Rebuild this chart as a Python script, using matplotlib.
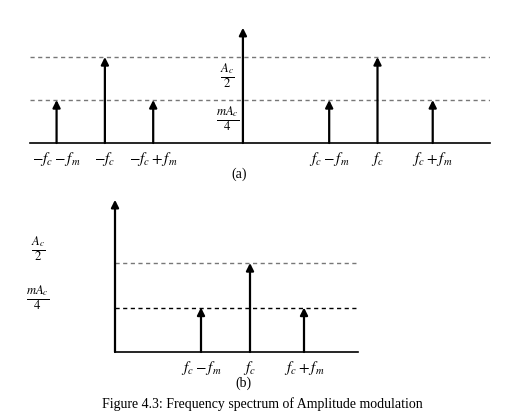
import matplotlib
matplotlib.use("Agg")
import matplotlib.pyplot as plt

plt.rcParams['mathtext.fontset'] = 'stix'
plt.rcParams['font.family'] = ['Liberation Serif', 'DejaVu Serif']

# Panel (a) data
a_freqs = [-5.4, -4.0, -2.6, 2.5, 3.9, 5.5]
a_amps = [0.5, 1.0, 0.5, 0.5, 1.0, 0.5]
a_labels = [r'$-f_c-f_m$', r'$-f_c$', r'$-f_c+f_m$', r'$f_c-f_m$', r'$f_c$', r'$f_c+f_m$']
# Panel (b) data
b_freqs = [1.72, 2.7, 3.78]
b_amps = [0.5, 1.0, 0.5]
b_labels = [r'$f_c-f_m$', r'$f_c$', r'$f_c+f_m$']
level_labels = [r'$\frac{A_c}{2}$', r'$\frac{mA_c}{4}$']
caption = 'Figure 4.3: Frequency spectrum of Amplitude modulation'

W, H = 521, 419
fig = plt.figure(figsize=(W/100, H/100), dpi=100)

def arrow(ax, x0, y0, x1, y1, lw=1.6):
    ax.annotate('', xy=(x1, y1), xytext=(x0, y0),
                arrowprops=dict(arrowstyle='-|>', color='black', lw=lw,
                                mutation_scale=11, shrinkA=0, shrinkB=0))

# ---- panel (a)
axa = fig.add_axes([30/W, 1-143/H, 460/W, 1.4*86/H])
axa.set_xlim(-6.17, 7.16); axa.set_ylim(0, 1.4); axa.axis('off')
axa.axhline(0, color='black', lw=1.2, clip_on=False)
for lv in (1.0, 0.5):
    axa.axhline(lv, color='#777777', lw=1.0, ls=(0, (3, 2.5)))
arrow(axa, 0, 0, 0, 1.34)
for f, a, l in zip(a_freqs, a_amps, a_labels):
    arrow(axa, f, 0, f, a)
    axa.text(f, -0.08, l, ha='center', va='top', fontsize=11)
axa.text(-0.45, 0.78, level_labels[0], ha='center', va='center', fontsize=13)
axa.text(-0.45, 0.28, level_labels[1], ha='center', va='center', fontsize=13)
axa.text(-0.1, -0.28, '(a)', ha='center', va='top', fontsize=10)

# ---- panel (b)
axb = fig.add_axes([115/W, 1-352/H, 243/W, 1.8*89/H])
axb.set_xlim(0, 4.86); axb.set_ylim(0, 1.8); axb.axis('off')
axb.axhline(0, color='black', lw=1.2, clip_on=False)
axb.axhline(1.0, color='#777777', lw=1.0, ls=(0, (3, 2.5)))
axb.axhline(0.5, color='black', lw=1.0, ls=(0, (3, 2.5)))
arrow(axb, 0, 0, 0, 1.71)
for f, a, l in zip(b_freqs, b_amps, b_labels):
    arrow(axb, f, 0, f, a)
    axb.text(f, -0.08, l, ha='center', va='top', fontsize=11)
axb.text(-1.54, 1.15, level_labels[0], ha='center', va='center', fontsize=13)
axb.text(-1.54, 0.6, level_labels[1], ha='center', va='center', fontsize=13)
axb.text(2.56, -0.27, '(b)', ha='center', va='top', fontsize=10)

fig.text(262/W, 1-404/H, caption, ha='center', va='center', fontsize=10)
fig.savefig('out.png', dpi=100)
